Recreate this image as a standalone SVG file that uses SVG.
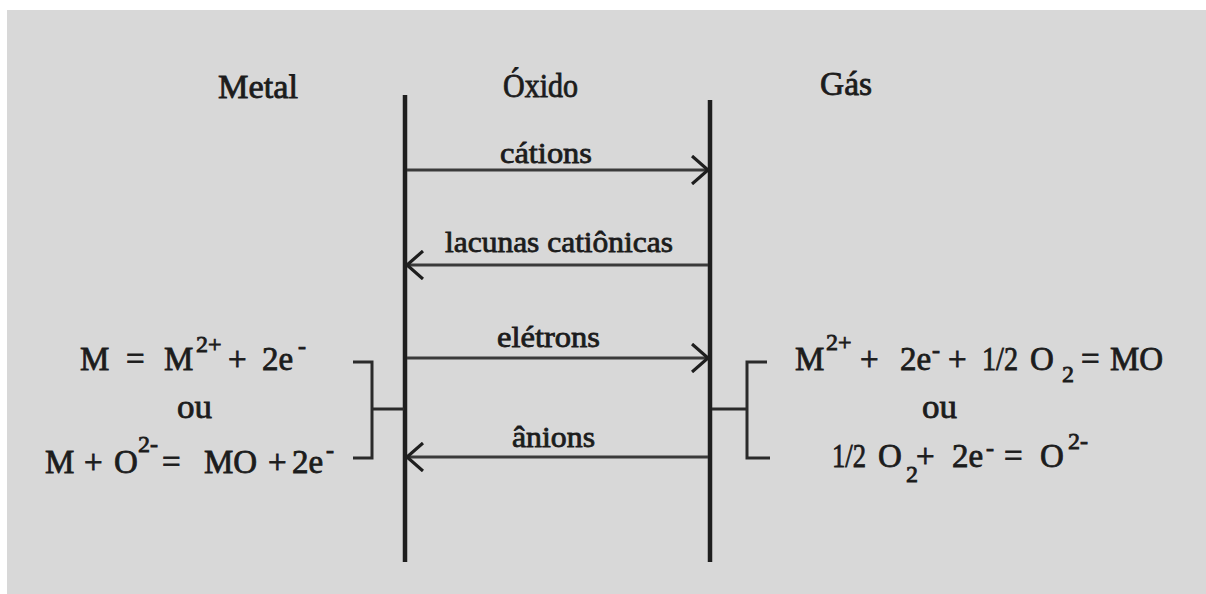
<svg xmlns="http://www.w3.org/2000/svg" width="1206" height="594" viewBox="0 0 1206 594">
  <style>
    .t { font-family: "Liberation Serif", "Times New Roman", serif; fill: #1c1c1c; font-size: 33px; stroke: #1c1c1c; stroke-width: 0.8px; }
    .lbl { font-size: 30px; }
    .sup { font-size: 24px; }
    .wall { stroke: #1e1e1e; stroke-width: 4.5; fill: none; stroke-linecap: butt; }
    .arr { stroke: #3a3a3a; stroke-width: 2.8; fill: none; }
    .br { stroke: #2a2a2a; stroke-width: 3; fill: none; }
  </style>
  <defs>
    <marker id="chev" viewBox="0 0 18 30" refX="17" refY="15" markerWidth="18" markerHeight="30" markerUnits="userSpaceOnUse" orient="auto">
      <path d="M1,1 L17,15 L1,29" fill="none" stroke="#1e1e1e" stroke-width="3.2"/>
    </marker>
  </defs>

  <rect x="7" y="10" width="1199" height="584" fill="#d8d8d8"/>

  <g id="walls">
    <line class="wall" x1="405" y1="95" x2="405" y2="562"/>
    <line class="wall" x1="710" y1="100" x2="710" y2="562"/>
  </g>

  <g id="titles">
    <text id="metal" class="t" x="218" y="98" textLength="80" lengthAdjust="spacingAndGlyphs">Metal</text>
    <text id="oxido" class="t" x="503" y="97" textLength="75" lengthAdjust="spacingAndGlyphs">Óxido</text>
    <text id="gas" class="t" x="820" y="95" textLength="52" lengthAdjust="spacingAndGlyphs">Gás</text>
  </g>

  <g id="connectors">
    <line class="arr" x1="407" y1="170" x2="708" y2="170" marker-end="url(#chev)"/>
    <line class="arr" x1="708" y1="265" x2="407" y2="265" marker-end="url(#chev)"/>
    <line class="arr" x1="407" y1="358" x2="708" y2="358" marker-end="url(#chev)"/>
    <line class="arr" x1="708" y1="457" x2="407" y2="457" marker-end="url(#chev)"/>
  </g>

  <g id="labels">
    <text class="t lbl" x="500" y="163" textLength="92" lengthAdjust="spacingAndGlyphs">cátions</text>
    <text class="t lbl" x="445" y="252" textLength="228" lengthAdjust="spacingAndGlyphs">lacunas catiônicas</text>
    <text class="t lbl" x="497" y="347" textLength="103" lengthAdjust="spacingAndGlyphs">elétrons</text>
    <text class="t lbl" x="512" y="447" textLength="83" lengthAdjust="spacingAndGlyphs">ânions</text>
  </g>

  <g id="metal-reactions">
    <text class="t" x="80" y="370">M</text>
    <text class="t" x="126" y="370">=</text>
    <text class="t" x="164" y="370">M</text>
    <text class="t sup" x="196" y="352">2+</text>
    <text class="t" x="228" y="370">+</text>
    <text class="t" x="262" y="370">2e</text>
    <text class="t sup" x="298" y="354">-</text>
    <text class="t" x="177" y="418" textLength="35" lengthAdjust="spacingAndGlyphs">ou</text>
    <text class="t" x="45" y="473">M</text>
    <text class="t" x="84" y="473">+</text>
    <text class="t" x="114" y="473">O</text>
    <text class="t sup" x="138" y="452">2-</text>
    <text class="t" x="162" y="473">=</text>
    <text class="t" x="204" y="473">MO</text>
    <text class="t" x="268" y="473">+</text>
    <text class="t" x="292" y="473">2e</text>
    <text class="t sup" x="326" y="458">-</text>
  </g>

  <g id="left-bracket">
    <polyline class="br" points="353,362 372,362 372,458 353,458"/>
    <line class="br" x1="372" y1="409" x2="404" y2="409"/>
  </g>

  <g id="right-bracket">
    <polyline class="br" points="767,362 747,362 747,458 770,458"/>
    <line class="br" x1="712" y1="409" x2="747" y2="409"/>
  </g>

  <g id="gas-reactions">
    <text class="t" x="795" y="370">M</text>
    <text class="t sup" x="826" y="350">2+</text>
    <text class="t" x="860" y="370">+</text>
    <text class="t" x="900" y="370">2e</text>
    <text class="t sup" x="932" y="358">-</text>
    <text class="t" x="948" y="370">+</text>
    <text class="t" x="982" y="370" textLength="36" lengthAdjust="spacingAndGlyphs">1/2</text>
    <text class="t" x="1030" y="370">O</text>
    <text class="t sup" x="1062" y="382">2</text>
    <text class="t" x="1081" y="370">=</text>
    <text class="t" x="1110" y="370">MO</text>
    <text class="t" x="922" y="418" textLength="35" lengthAdjust="spacingAndGlyphs">ou</text>
    <text class="t" x="832" y="467" textLength="34" lengthAdjust="spacingAndGlyphs">1/2</text>
    <text class="t" x="878" y="467">O</text>
    <text class="t sup" x="906" y="482">2</text>
    <text class="t" x="916" y="467">+</text>
    <text class="t" x="952" y="467">2e</text>
    <text class="t sup" x="986" y="456">-</text>
    <text class="t" x="1004" y="467">=</text>
    <text class="t" x="1040" y="467">O</text>
    <text class="t sup" x="1068" y="449">2-</text>
  </g>
</svg>
